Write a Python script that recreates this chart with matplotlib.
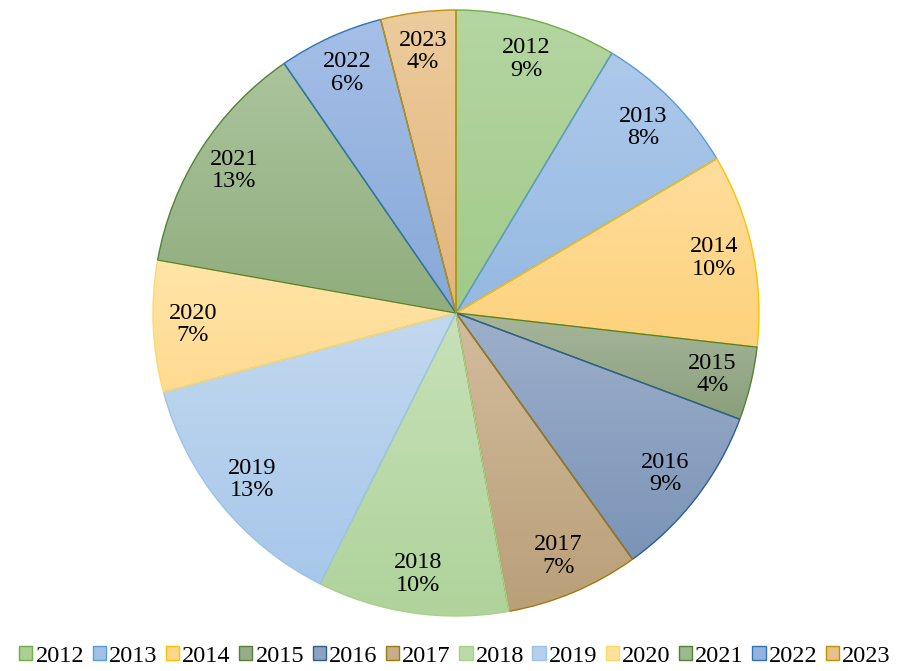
import numpy as np
import matplotlib.pyplot as plt
from matplotlib.colors import to_rgb
from matplotlib.patches import Patch

years = ['2012', '2013', '2014', '2015', '2016', '2017',
         '2018', '2019', '2020', '2021', '2022', '2023']
shares = [8.6, 7.9, 10.3, 3.9, 9.4, 7.1, 10.2, 13.4, 7.0, 12.6, 5.6, 4.0]

top_col = ['#b4d6a2', '#adc9ea', '#ffdd9c', '#a6b69c', '#9dafcb', '#d4bb9c',
           '#c7e1b8', '#c2d8ef', '#ffe5a8', '#abc49d', '#a5bfe7', '#eccb9c']
bot_col = ['#a1ca89', '#96b9e2', '#fdd27c', '#8a9f7b', '#7b94b7', '#b9a079',
           '#afd39b', '#a7c7ea', '#ffda90', '#90ad7d', '#87a8d8', '#e2b67c']
edge_col = ['#70ad47', '#5b9bd5', '#ffc000', '#548235', '#2e5e8e', '#9e7b10',
            '#a9d18e', '#9dc3e6', '#ffd966', '#548235', '#2e75b6', '#bf9000']

plt.rcParams['font.family'] = ['Liberation Serif', 'DejaVu Serif']

fig = plt.figure(figsize=(9.16, 6.71), dpi=100)
ax = fig.add_axes([(456 - 303) / 916, 55 / 671, 606 / 916, 606 / 671])

total = sum(shares)
wedges, texts = ax.pie(shares, startangle=90, counterclock=False, radius=1,
                       labels=[f'{y}\n{round(v / total * 100)}%' for y, v in zip(years, shares)],
                       labeldistance=0.87,
                       wedgeprops=dict(linewidth=1.0))
for t in texts:
    t.set_ha('center')
    t.set_va('center')
    t.set_fontsize(17.5)
    t.set_linespacing(1.08)

# vertical gradient fill per slice, clipped to the wedge
for w, c1, c2, ec in zip(wedges, top_col, bot_col, edge_col):
    w.set_facecolor('none')
    w.set_edgecolor(ec)
    w.set_zorder(3)
    verts = w.get_path().vertices
    x0, y0 = verts.min(axis=0)
    x1, y1 = verts.max(axis=0)
    a = np.array(to_rgb(c1))
    b = np.array(to_rgb(c2))
    tt = np.linspace(0, 1, 64)[:, None]
    grad = (a * (1 - tt) + b * tt)[:, None, :]
    im = ax.imshow(grad, extent=[x0, x1, y0, y1], origin='upper',
                   aspect='auto', zorder=2, interpolation='bilinear')
    im.set_clip_path(w)

for t in texts:
    t.set_zorder(5)

ax.set_xlim(-1, 1)
ax.set_ylim(-1, 1)
ax.set_aspect('equal')
ax.axis('off')

handles = [Patch(facecolor=(np.array(to_rgb(c1)) + np.array(to_rgb(c2))) / 2,
                 edgecolor=ec, linewidth=1.0)
           for c1, c2, ec in zip(top_col, bot_col, edge_col)]
fig.legend(handles, years, loc='center', bbox_to_anchor=(455 / 916, 1 - 656 / 671),
           ncol=12, frameon=False, fontsize=17.5, handlelength=0.55, handleheight=0.55,
           handletextpad=0.12, columnspacing=0.35, borderpad=0)

fig.savefig('out.png', dpi=100)
